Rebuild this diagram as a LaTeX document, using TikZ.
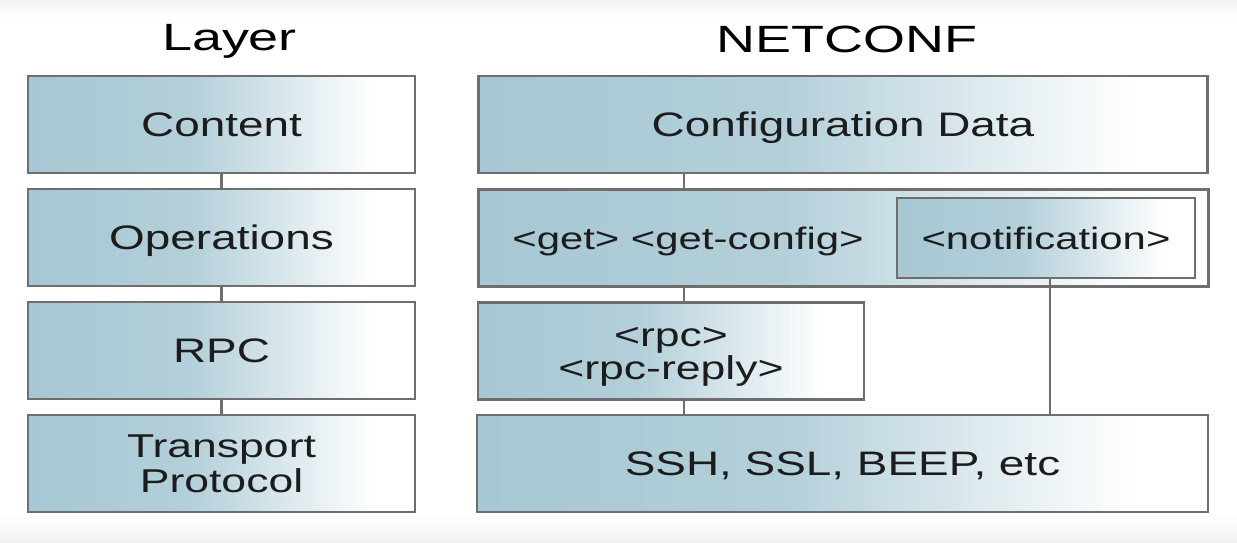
\documentclass[tikz,border=0pt]{standalone}
\usepackage{fontspec}
\setmainfont{Liberation Sans}[FakeStretch=1.35]
\newfontfamily\titlefont{Liberation Sans}[FakeStretch=1.42]
\definecolor{boxblue}{HTML}{A6C7D3}
\definecolor{edgegray}{HTML}{6E6E6E}
\definecolor{ink}{HTML}{1C1C1C}
\pgfdeclarehorizontalshading{boxfade}{100bp}{color(0bp)=(boxblue); color(25bp)=(boxblue); color(46bp)=(boxblue!85!white); color(70bp)=(white); color(100bp)=(white)}
\pgfdeclarelayer{back}
\pgfsetlayers{back,main}
\tikzset{
  box/.style={draw=edgegray, line width=2.4pt, shading=boxfade, text=ink, inner sep=0pt, align=center},
  lbl/.style={font=\fontsize{34}{36}\selectfont, text height=24.3pt, text depth=0pt},
  small/.style={text=ink, inner sep=0pt, font=\fontsize{31}{33}\selectfont, text height=22.2pt, text depth=0pt},
  title/.style={text=black, inner sep=0pt, font=\titlefont\fontsize{38}{40}\selectfont, text height=27.2pt, text depth=0pt},
  conn/.style={draw=edgegray, line width=2.4pt},
}
\begin{document}
\begin{tikzpicture}[x=1pt,y=-1pt]
\useasboundingbox (0,0) rectangle (1237,543);
\begin{pgfonlayer}{back}
  \fill[white] (0,0) rectangle (1237,543);
  \shade[top color=gray!10, bottom color=white] (0,0) rectangle (1237,18);
  \shade[top color=white, bottom color=gray!12] (0,515) rectangle (1237,543);
\end{pgfonlayer}

% titles
\node[title] (tlayer) at (229.5,37) {Layer};
\node[title] (tnet) at (847,39) {NETCONF};

% left column
\node[box, lbl, minimum width=387pt, minimum height=97pt] (content) at (221.5,124.5) {Content};
\node[box, lbl, minimum width=387pt, minimum height=97pt] (ops) at (221.5,237.5) {Operations};
\node[box, lbl, minimum width=387pt, minimum height=97pt] (rpc) at (221.5,350.5) {RPC};
\node[box, font=\fontsize{33}{35}\selectfont, minimum width=387pt, minimum height=97pt] (trans) at (221.5,463.5) {Transport\\Protocol};

% right column
\node[box, lbl, minimum width=729pt, minimum height=97pt] (cfg) at (843,124.5) {Configuration Data};
\node[box, minimum width=730pt, minimum height=97pt] (opsr) at (843.5,238) {};
\node[small] (getcfg) at (688,238) {<get> <get-config>};
\node[box, small, minimum width=298pt, minimum height=80pt] (notif) at (1046,238) {<notification>};
\node[box, minimum width=386pt, minimum height=97pt] (rpcr) at (671,351) {};
\node[text=ink, inner sep=0pt, align=center, font=\fontsize{33}{33}\selectfont] (rpctxt) at (671,357) {<rpc>\\<rpc-reply>};
\node[box, lbl, minimum width=731pt, minimum height=97pt] (ssh) at (842.5,463.5) {SSH, SSL, BEEP, etc};

% connectors left
\draw[conn] (content.south) -- (ops.north);
\draw[conn] (ops.south) -- (rpc.north);
\draw[conn] (rpc.south) -- (trans.north);

% connectors right
\coordinate (rc) at (684,0);
\coordinate (nc) at (1050,0);
\draw[conn] (cfg.south -| rc) -- (opsr.north -| rc);
\draw[conn] (opsr.south -| rc) -- (rpcr.north -| rc);
\draw[conn] (rpcr.south -| rc) -- (ssh.north -| rc);
\draw[conn] (notif.south -| nc) -- (ssh.north -| nc);
\end{tikzpicture}
\end{document}
